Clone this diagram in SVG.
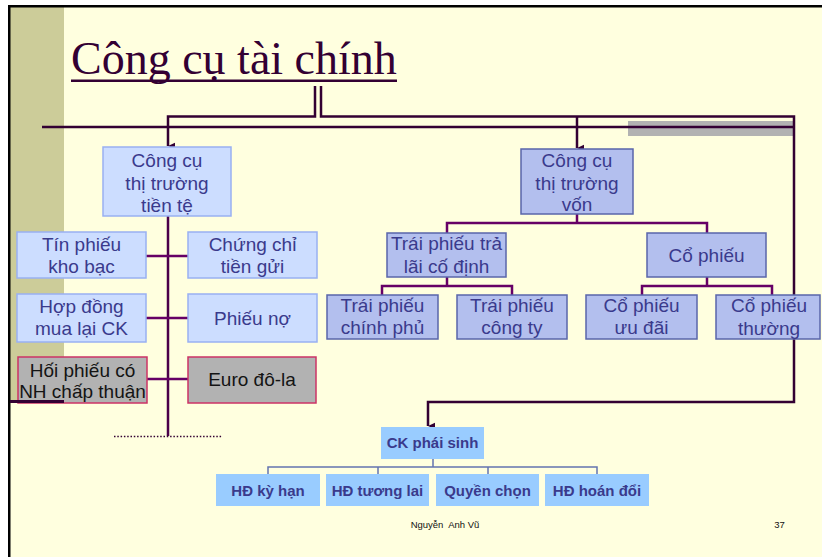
<svg xmlns="http://www.w3.org/2000/svg" width="822" height="557" viewBox="0 0 822 557">
<defs>
<marker id="arr" markerUnits="userSpaceOnUse" markerWidth="8" markerHeight="8" viewBox="0 0 8 8" refX="4" refY="7" orient="auto-start-reverse">
<path d="M0.8,0 L4,7 L7.2,0 Z" fill="#330033"/>
</marker>
<style>
.bA{fill:#CCDDFF;stroke:#99B0F2;stroke-width:1.5}
.bB{fill:#B3BFEE;stroke:#5A66AA;stroke-width:1.5}
.bG{fill:#B2B2B2;stroke:#CC3366;stroke-width:1.5}
.bD{fill:#99CCFF}
.t{font-family:"Liberation Sans",Arial,sans-serif;font-size:19px;fill:#3A3A8C;text-anchor:middle}
.tk{font-family:"Liberation Sans",Arial,sans-serif;font-size:19px;fill:#141414;text-anchor:middle}
.td{font-family:"Liberation Sans",Arial,sans-serif;font-size:15px;font-weight:bold;fill:#3A3A8C;text-anchor:middle}
.ft{font-family:"Liberation Sans",Arial,sans-serif;font-size:9.5px;fill:#111}
.c1{fill:none;stroke:#330033;stroke-width:2.5}
.c2{fill:none;stroke:#660066;stroke-width:2.5}
.c3{fill:none;stroke:#6474B0;stroke-width:1.5}
</style>
</defs>
<rect x="0" y="0" width="822" height="557" fill="#FFFFFF"/>
<rect x="8" y="5" width="814" height="552" fill="#FFFFDF"/>
<rect x="10" y="7" width="54" height="395" fill="#CCCC99"/>
<rect x="8" y="5" width="814" height="2.5" fill="#000"/>
<rect x="8" y="5" width="2.5" height="552" fill="#000"/>
<rect x="628" y="121" width="166" height="15" fill="#B2B2B2"/>

<g id="title">
<text x="71" y="74" font-family="'Liberation Serif','Times New Roman',serif" font-size="46" fill="#330033">Công cụ tài chính</text>
<rect x="71" y="79.5" width="326" height="2.5" fill="#330033"/>
</g>

<g id="connectors">
<path class="c1" d="M315,86 V116.5 H168 V146" marker-end="url(#arr)"/>
<path class="c1" d="M321,86 V116.5 H794 V402 H428 V426" marker-end="url(#arr)"/>
<path class="c1" d="M577,116.5 V148" marker-end="url(#arr)"/>
<path class="c1" d="M42,127 H794"/>
<path fill="none" stroke="#4A004A" stroke-width="2.5" d="M168,216 V436"/>
<path class="c2" d="M146,256 H188 M146,318 H188 M147,379 H188"/>
<path fill="none" stroke="#330033" stroke-width="1.5" stroke-dasharray="1.5 1.8" d="M114,436.5 H222"/>
<path class="c2" d="M577,214 V223 M447,233 V223 H707 V233"/>
<path class="c2" d="M447,277 V286 M382,295 V286 H512 V295"/>
<path class="c2" d="M707,277 V286 M642,295 V286 H772 V295"/>
<path class="c3" d="M433,459 V467 M268,474 V467 H597 V474 M378,467 V474 M488,467 V474"/>
</g>

<g id="n-tien-te"><rect class="bA" x="103" y="147" width="128" height="69"/>
<text class="t" x="167" y="167">Công cụ</text><text class="t" x="167" y="190">thị trường</text><text class="t" x="167" y="212">tiền tệ</text></g>
<g id="n-tin-phieu"><rect class="bA" x="17" y="232" width="129" height="46"/>
<text class="t" x="81.5" y="251">Tín phiếu</text><text class="t" x="81.5" y="273">kho bạc</text></g>
<g id="n-chung-chi"><rect class="bA" x="188" y="232" width="129" height="46"/>
<text class="t" x="252.5" y="251">Chứng chỉ</text><text class="t" x="252.5" y="273">tiền gửi</text></g>
<g id="n-hop-dong"><rect class="bA" x="17" y="294" width="129" height="48"/>
<text class="t" x="81.5" y="313">Hợp đồng</text><text class="t" x="81.5" y="335">mua lại CK</text></g>
<g id="n-phieu-no"><rect class="bA" x="188" y="294" width="129" height="48"/>
<text class="t" x="252.5" y="325">Phiếu nợ</text></g>
<g id="n-hoi-phieu"><rect class="bG" x="18" y="357" width="129" height="46"/>
<text class="tk" x="82.5" y="377">Hối phiếu có</text><text class="tk" x="82.5" y="398" font-size="16.5">NH chấp thuận</text></g>
<g id="n-euro"><rect class="bG" x="188" y="357" width="128" height="46"/>
<text class="tk" x="252" y="386">Euro đô-la</text></g>
<rect x="10" y="400" width="54" height="3" fill="#330033"/>

<g id="n-von"><rect class="bB" x="521" y="149" width="112" height="65"/>
<text class="t" x="577" y="167">Công cụ</text><text class="t" x="577" y="190">thị trường</text><text class="t" x="577" y="211">vốn</text></g>
<g id="n-trai-phieu"><rect class="bB" x="387" y="233" width="119" height="44"/>
<text class="t" x="446.5" y="250">Trái phiếu trả</text><text class="t" x="446.5" y="273">lãi cố định</text></g>
<g id="n-co-phieu"><rect class="bB" x="647" y="233" width="119" height="44"/>
<text class="t" x="706.5" y="262">Cổ phiếu</text></g>
<g id="n-tp-cp"><rect class="bB" x="327" y="295" width="111" height="44"/>
<text class="t" x="382.5" y="312">Trái phiếu</text><text class="t" x="382.5" y="334">chính phủ</text></g>
<g id="n-tp-ct"><rect class="bB" x="457" y="295" width="110" height="44"/>
<text class="t" x="512" y="312">Trái phiếu</text><text class="t" x="512" y="334">công ty</text></g>
<g id="n-cp-ud"><rect class="bB" x="586" y="295" width="111" height="44"/>
<text class="t" x="641.5" y="312">Cổ phiếu</text><text class="t" x="641.5" y="334">ưu đãi</text></g>
<g id="n-cp-th"><rect class="bB" x="716" y="295" width="104" height="44"/>
<text class="t" x="769" y="312">Cổ phiếu</text><text class="t" x="769" y="335">thường</text></g>

<g id="n-phai-sinh"><rect class="bD" x="381" y="427" width="103" height="32"/>
<text class="td" x="432.5" y="448">CK phái sinh</text></g>
<g id="n-ky-han"><rect class="bD" x="216" y="474" width="104" height="32"/>
<text class="td" x="268" y="496">HĐ kỳ hạn</text></g>
<g id="n-tuong-lai"><rect class="bD" x="326" y="474" width="103" height="32"/>
<text class="td" x="377.5" y="496">HĐ tương lai</text></g>
<g id="n-quyen-chon"><rect class="bD" x="436" y="474" width="103" height="32"/>
<text class="td" x="487.5" y="496">Quyền chọn</text></g>
<g id="n-hoan-doi"><rect class="bD" x="545" y="474" width="104" height="32"/>
<text class="td" x="597" y="496">HĐ hoán đổi</text></g>

<g id="footer">
<text class="ft" x="445" y="527.5" text-anchor="middle" xml:space="preserve">Nguyễn  Anh Vũ</text>
<text class="ft" x="779.5" y="527.5" text-anchor="middle">37</text>
</g>
</svg>
